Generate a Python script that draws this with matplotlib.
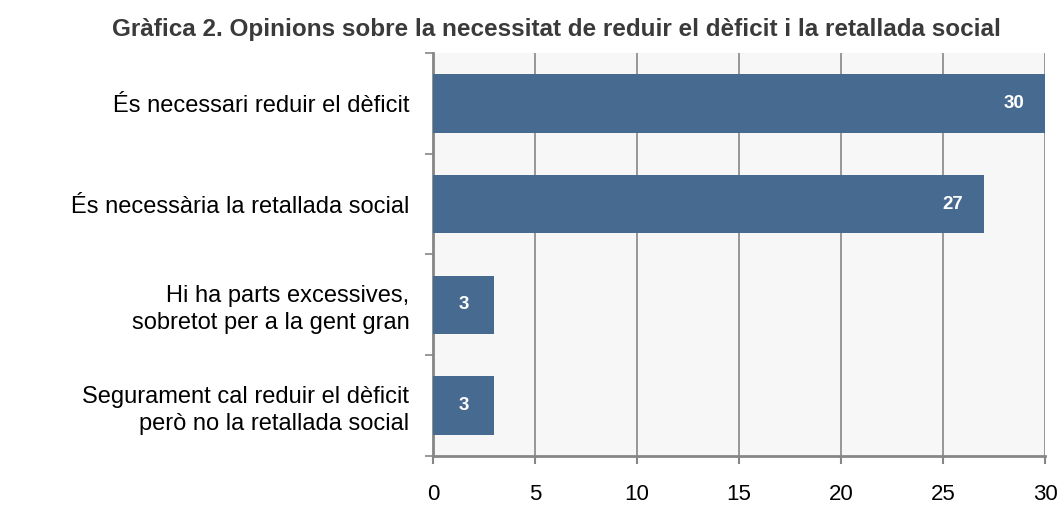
import matplotlib.pyplot as plt
import numpy as np

plt.rcParams['font.family'] = ['Liberation Sans', 'DejaVu Sans']

categories = ['És necessari reduir el dèficit',
              'És necessària la retallada social',
              'Hi ha parts excessives,\nsobretot per a la gent gran',
              'Segurament cal reduir el dèficit\nperò no la retallada social']
values = [30, 27, 3, 3]
xticks = [0, 5, 10, 15, 20, 25, 30]

bar_color = '#476a91'
grid_color = '#868686'

fig = plt.figure(figsize=(10.62, 5.08), dpi=100)
ax = fig.add_axes([0.4077, 0.1024, 0.5763, 0.7933])
ax.set_facecolor('#f7f7f7')

y = np.arange(len(categories))
ax.barh(y, values, height=0.58, color=bar_color, zorder=3)

# value labels inside the bar end
for yi, v in zip(y, values):
    ax.text(v - 1.5, yi, str(v), ha='center', va='center', color='white',
            fontsize=13.5, fontweight='bold', zorder=4)

ax.set_xlim(0, 30)
ax.set_ylim(len(categories) - 0.5, -0.5)
ax.set_xticks(xticks)
ax.set_xticklabels([str(t) for t in xticks], fontsize=16)
ax.set_yticks(y)
ax.set_yticklabels(categories, fontsize=17, linespacing=1.3)
ax.set_yticks(np.arange(len(categories) + 1) - 0.5, minor=True)

ax.tick_params(axis='y', which='major', length=0, pad=17)
ax.tick_params(axis='y', which='minor', length=6, width=1.2, color=grid_color)
ax.tick_params(axis='x', which='major', length=6, width=1.5, color=grid_color,
               direction='out', pad=14)

ax.grid(axis='x', color=grid_color, linewidth=1.2, zorder=0)
ax.set_axisbelow(True)

for s in ['top', 'right']:
    ax.spines[s].set_visible(False)
for s in ['left', 'bottom']:
    ax.spines[s].set_color(grid_color)
    ax.spines[s].set_linewidth(2)

fig.text(0.5235, 0.941,
         'Gràfica 2. Opinions sobre la necessitat de reduir el dèficit i la retallada social',
         ha='center', va='center', fontsize=17.5, fontweight='bold', color='#3a3a3a')

fig.savefig('out.png', dpi=100)
